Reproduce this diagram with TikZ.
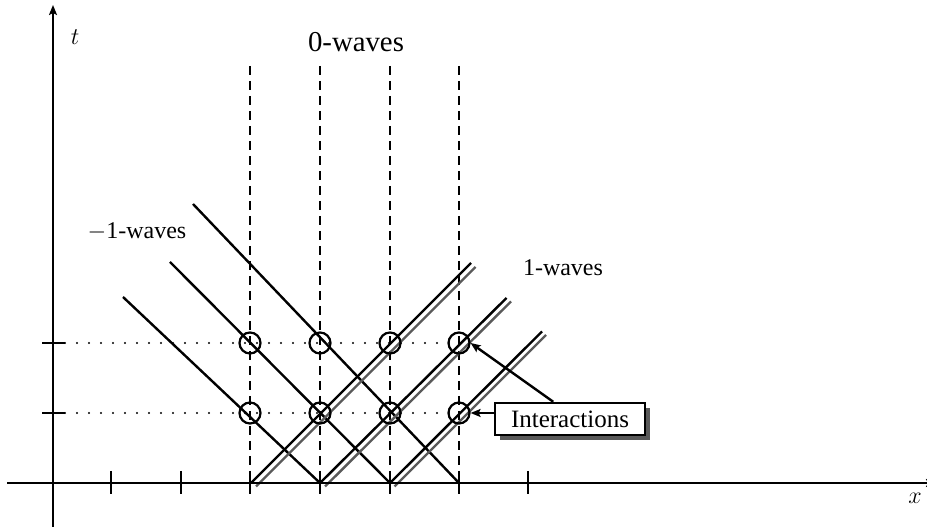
\documentclass[tikz,border=0pt]{standalone}
\usepackage{fontspec}
\setmainfont{Liberation Serif}
\usetikzlibrary{arrows.meta,shadows,calc}
\definecolor{wavegray}{RGB}{90,90,90}
\begin{document}
\begin{tikzpicture}[x=0.5pt,y=-0.5pt,
  axisline/.style={line width=1.25pt},
  tickline/.style={line width=1.25pt},
  zerowave/.style={line width=1.2pt,dash pattern=on 4.5pt off 3pt},
  dotrow/.style={line width=1.1pt,line cap=round,dash pattern=on 0pt off 6pt},
  negwave/.style={line width=1.2pt},
  posblack/.style={line width=1.2pt,black},
  posgray/.style={line width=1.2pt,wavegray},
  circ/.style={circle,draw,line width=1.1pt,minimum size=10.5pt,inner sep=0pt},
  lbl/.style={font=\rmfamily\fontsize{12}{14}\selectfont,inner sep=0pt},
  tip/.style={-{Stealth[length=5pt,width=4pt,inset=1pt]}},
  infobox/.style={draw,fill=white,line width=1.2pt,minimum width=75pt,minimum height=16pt,
    inner sep=0pt,font=\rmfamily\fontsize{12.5}{14}\selectfont,
    drop shadow={shadow xshift=2.5pt,shadow yshift=-2.5pt,fill=black!65,opacity=1}}
]
\useasboundingbox (0,0) rectangle (927,528);
\clip (0,0) rectangle (927,528);

% dotted rows
\draw[dotrow] (65,343) -- (459,343);
\draw[dotrow] (65,413) -- (459,413);

% 0-waves (dashed verticals)
\foreach \xx in {250,320,390,459}
  \draw[zerowave] (\xx,66) -- (\xx,483);

% -1-waves
\draw[negwave] (123,297) -- (320,483);
\draw[negwave] (170,262) -- (390,483);
\draw[negwave] (193,204) -- (459,483);

% 1-waves (double lines)
\draw[posgray] (256,486.5) -- (475.5,267);
\draw[posblack] (251,483) -- (471,263);
\draw[posgray] (325,486.5) -- (511,301.5);
\draw[posblack] (320,483) -- (506.5,298);
\draw[posgray] (394.5,486.5) -- (546,335);
\draw[posblack] (390,483) -- (542,331.5);

% interaction circles
\node[circ] (c11) at (250,413) {};
\node[circ] (c12) at (320,413) {};
\node[circ] (c13) at (390,413) {};
\node[circ] (c14) at (459,413) {};
\node[circ] (c21) at (250,343) {};
\node[circ] (c22) at (320,343) {};
\node[circ] (c23) at (390,343) {};
\node[circ] (c24) at (459,343) {};

% axes
\draw[axisline,tip] (53,527) -- (53,5);
\draw[axisline,tip] (7,483) -- (936,483);
\foreach \xx in {111,181,250,320,390,459,528}
  \draw[tickline] (\xx,471) -- (\xx,494);
\foreach \yy in {343,413}
  \draw[tickline] (42,\yy) -- (65,\yy);

% labels
\node[lbl] (tlab) at (75,37) {$t$};
\node[lbl] (xlab) at (915,498) {$x$};
\node[font=\rmfamily\fontsize{14.4}{17}\selectfont,inner sep=0pt] (wzero) at (356,42) {0-waves};
\node[lbl] (wneg) at (137,232) {$-$1-waves};
\node[lbl] (wpos) at (563,268) {1-waves};

% interactions box and arrows
\node[infobox] (inter) at (570,419) {Interactions};
\draw[line width=1.2pt,tip] (c14.east -| inter.west) -- (c14.east);
\draw[line width=1.2pt,tip] ($(inter.north west)!0.39!(inter.north east)$) -- (c24.east);
\end{tikzpicture}
\end{document}
